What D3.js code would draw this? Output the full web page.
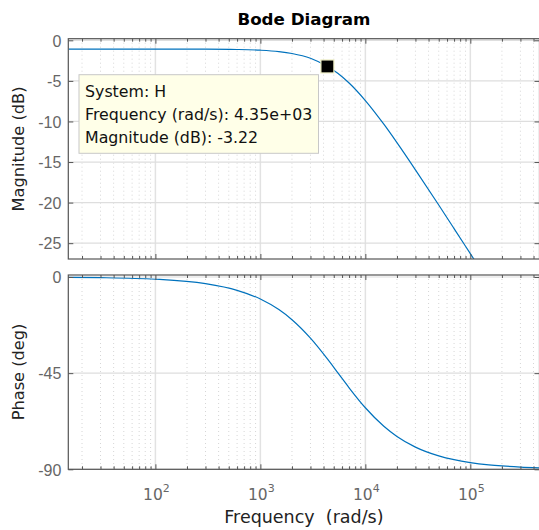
<!DOCTYPE html>
<html>
<head>
<meta charset="utf-8">
<script src="https://cdn.jsdelivr.net/npm/d3@7"></script>
<style>
  html, body { margin: 0; padding: 0; background: #fff; }
  svg { display: block; font-family: "DejaVu Sans", sans-serif; }
</style>
</head>
<body>
<div id="bode"></div>
<script>
(() => {
const width = 539, height = 530;

// frequencies (rad/s) and values
const magFreq = [15, 30, 100, 300, 600, 1000, 1500, 2000, 3000, 4350, 5500, 7000,
                 1e4, 1.5e4, 2e4, 3e4, 5e4, 7e4, 1e5, 1.2e5];
const magDb = [-1.08, -1.08, -1.08, -1.09, -1.13, -1.22, -1.39, -1.62, -2.21, -3.22, -4.09, -5.26,
               -7.42, -10.34, -12.61, -15.96, -20.30, -23.20, -26.29, -27.87];
const phaseFreq = [15, 30, 100, 300, 600, 1000, 1500, 2000, 3000, 4350, 5500, 7000,
                   1e4, 1.5e4, 2e4, 3e4, 5e4, 7e4, 1e5, 1.5e5, 2e5, 3e5, 4.56e5];
const phaseDeg = [-0.16, -0.31, -1.04, -3.12, -6.23, -10.3, -15.26, -19.98, -28.61, -38.34, -45, -51.84,
                  -61.19, -69.86, -74.62, -79.61, -83.72, -85.51, -86.85, -87.9, -88.42, -88.95, -89.31];

const magTicks = [0, -5, -10, -15, -20, -25];
const phaseTicks = [0, -45, -90];
const decadeTicks = [1e2, 1e3, 1e4, 1e5];
const decadeExp = ["2", "3", "4", "5"];

const tipFreq = 4350, tipMag = -3.22;
const tipLines = ["System: H", "Frequency (rad/s): 4.35e+03", "Magnitude (dB): -3.22"];

// minor ticks 2..9 per decade inside the visible range
const minorTicks = [];
for (let p = 1; p <= 5; p++) for (let m = 2; m <= 9; m++) {
  const v = m * Math.pow(10, p);
  if (v > 14.8 && v < 4.56e5) minorTicks.push(v);
}

const left = 68.3, right = 539.5;
const x = d3.scaleLog().domain([14.8, 4.56e5]).range([left, right]);
const yMag = d3.scaleLinear().domain([-26.95, 0.2]).range([259, 38.7]);
const yPh = d3.scaleLinear().domain([-90, 0.94]).range([469.3, 275]);

const svg = d3.select("#bode").append("svg")
  .attr("width", width).attr("height", height);

const axisCol = "#555", labelCol = "#666", blue = "#0072BD";

function panel(y, ticks, freq, vals, id) {
  const [bot, top] = y.range();
  const g = svg.append("g");

  g.append("clipPath").attr("id", id).append("rect")
    .attr("x", left).attr("y", top).attr("width", right - left).attr("height", bot - top);

  // minor grid (dotted)
  g.selectAll(".minor").data(minorTicks).join("line")
    .attr("x1", d => x(d)).attr("x2", d => x(d))
    .attr("y1", top).attr("y2", bot)
    .attr("stroke", "#d6d6d6").attr("stroke-dasharray", "1,3");
  // major grid
  g.selectAll(".vmaj").data(decadeTicks).join("line")
    .attr("x1", d => x(d)).attr("x2", d => x(d))
    .attr("y1", top).attr("y2", bot)
    .attr("stroke", "#e2e2e2").attr("stroke-width", 1.5);
  g.selectAll(".hmaj").data(ticks).join("line")
    .attr("x1", left).attr("x2", right)
    .attr("y1", d => y(d)).attr("y2", d => y(d))
    .attr("stroke", "#dedede").attr("stroke-width", 1.2);

  // curve
  const line = d3.line()
    .x((d, i) => x(freq[i])).y(d => y(d))
    .curve(d3.curveMonotoneX);
  g.append("path").datum(vals)
    .attr("clip-path", `url(#${id})`)
    .attr("d", line).attr("fill", "none")
    .attr("stroke", blue).attr("stroke-width", 1.2);

  // ticks pointing inward
  const strip = a => a.call(s => s.select(".domain").remove())
    .call(s => s.selectAll(".tick line").attr("stroke", axisCol));
  g.append("g").attr("transform", `translate(0,${bot})`)
    .call(d3.axisTop(x).tickValues(decadeTicks).tickSize(5).tickFormat(""))
    .call(strip);
  g.append("g").attr("transform", `translate(0,${bot})`)
    .call(d3.axisTop(x).tickValues(minorTicks).tickSize(3).tickFormat(""))
    .call(strip);
  g.append("g").attr("transform", `translate(0,${top})`)
    .call(d3.axisBottom(x).tickValues(decadeTicks).tickSize(5).tickFormat(""))
    .call(strip);
  g.append("g").attr("transform", `translate(0,${top})`)
    .call(d3.axisBottom(x).tickValues(minorTicks).tickSize(3).tickFormat(""))
    .call(strip);
  g.append("g").attr("transform", `translate(${right},0)`)
    .call(d3.axisLeft(y).tickValues(ticks).tickSize(5).tickFormat(""))
    .call(strip);
  const ya = g.append("g").attr("transform", `translate(${left},0)`)
    .call(d3.axisRight(y).tickValues(ticks).tickSize(5).tickFormat(""))
    .call(strip);
  ya.selectAll(".tick").append("text")
    .attr("x", -7).attr("dy", "0.36em")
    .attr("text-anchor", "end")
    .attr("fill", labelCol).attr("font-size", 16)
    .text(d => d);

  // box
  g.append("rect")
    .attr("x", left).attr("y", top).attr("width", right - left).attr("height", bot - top)
    .attr("fill", "none").attr("stroke", axisCol).attr("stroke-width", 1.2);
  return g;
}

panel(yMag, magTicks, magFreq, magDb, "clipMag");
const ph = panel(yPh, phaseTicks, phaseFreq, phaseDeg, "clipPh");

// decade labels 10^n
const xl = ph.append("g").selectAll("text").data(decadeTicks).join("text")
  .attr("x", d => x(d) + 1).attr("y", 499.5)
  .attr("text-anchor", "middle").attr("fill", labelCol).attr("font-size", 15.5);
xl.append("tspan").text("10");
xl.append("tspan").attr("dy", -7.5).attr("font-size", 11).text((d, i) => decadeExp[i]);

// titles and labels
svg.append("text").attr("x", (left + right) / 2).attr("y", 25)
  .attr("text-anchor", "middle").attr("font-weight", "bold").attr("font-size", 16.7)
  .attr("fill", "#000").text("Bode Diagram");
svg.append("text").attr("transform", "translate(24,149) rotate(-90)")
  .attr("text-anchor", "middle").attr("font-size", 16.2).attr("fill", "#222")
  .text("Magnitude (dB)");
svg.append("text").attr("transform", "translate(24,372) rotate(-90)")
  .attr("text-anchor", "middle").attr("font-size", 16.2).attr("fill", "#222")
  .text("Phase (deg)");
svg.append("text").attr("x", (left + right) / 2).attr("y", 522.7)
  .attr("text-anchor", "middle").attr("font-size", 17.5).attr("fill", "#222")
  .style("white-space", "pre")
  .text("Frequency  (rad/s)");

// data tip
const tip = svg.append("g");
tip.append("rect").attr("x", 79).attr("y", 74.7).attr("width", 239.5).attr("height", 78.6)
  .attr("fill", "#ffffe8").attr("stroke", "#c8c8c8");
tip.selectAll(".tl").data(tipLines).join("text")
  .attr("x", 85).attr("y", (d, i) => 96.7 + i * 23.2)
  .attr("font-size", 15.8).attr("fill", "#111").text(d => d);
tip.append("rect")
  .attr("x", x(tipFreq) - 6.5).attr("y", yMag(tipMag) - 6.5)
  .attr("width", 13).attr("height", 13)
  .attr("fill", "#000").attr("stroke", "#f2f2c8").attr("stroke-width", 1.2);
})();
</script>
</body>
</html>
